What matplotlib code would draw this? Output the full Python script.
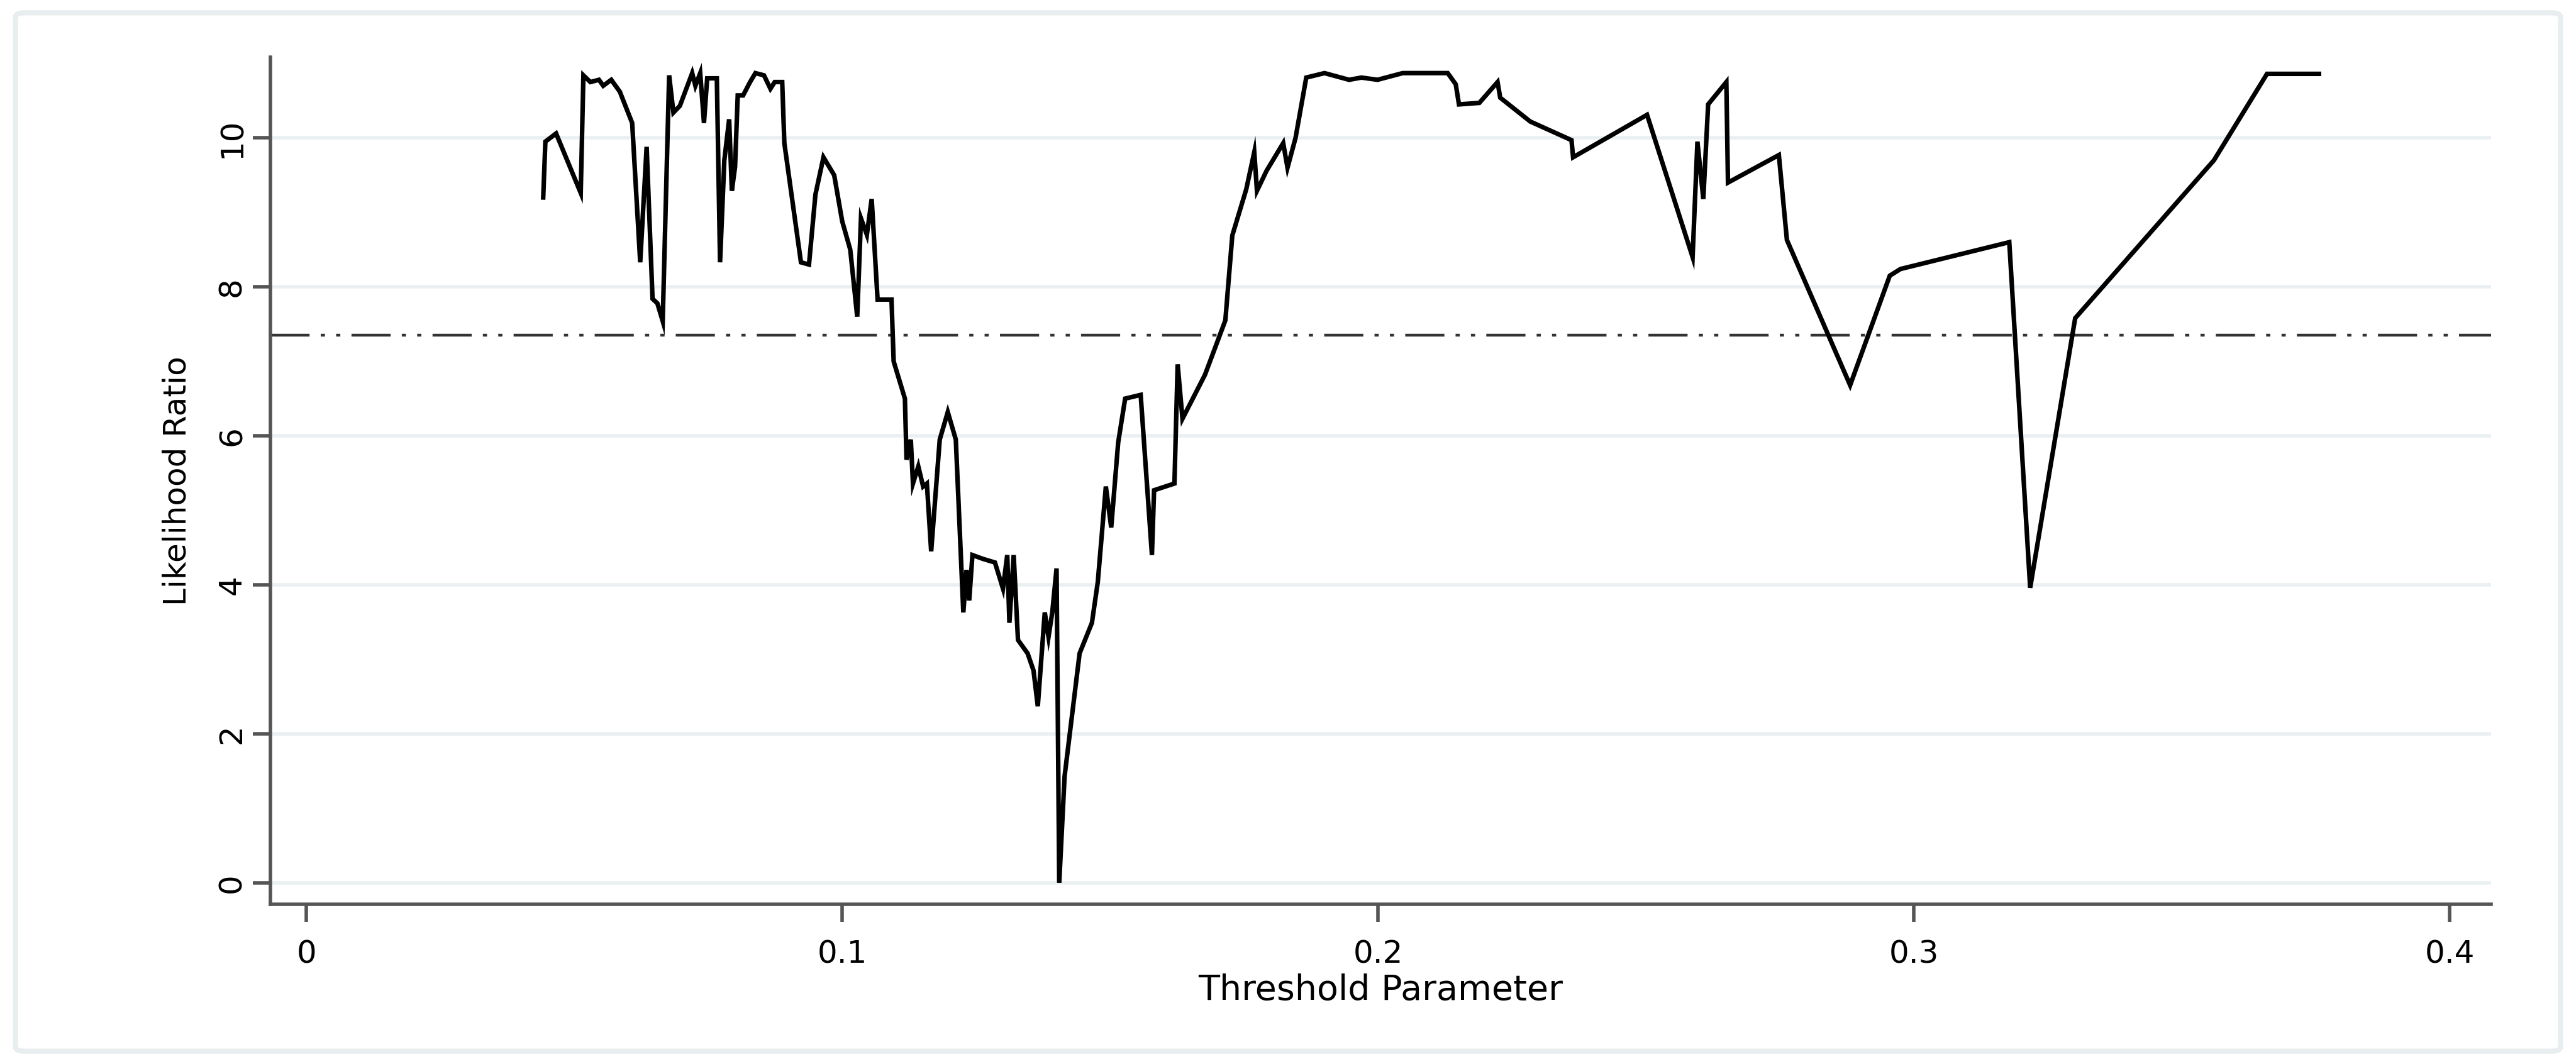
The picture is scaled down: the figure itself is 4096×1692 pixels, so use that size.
import matplotlib
matplotlib.use("Agg")
import matplotlib.pyplot as plt
from matplotlib.patches import FancyBboxPatch

threshold = [0.0442,0.0446,0.0466,0.0512,0.0517,0.0530,0.0546,0.0554,0.0569,0.0585,0.0608,0.0623,0.0635,0.0646,0.0655,0.0665,0.0677,0.0685,0.0697,0.0720,0.0726,0.0735,0.0742,0.0748,0.0766,0.0772,0.0780,0.0789,0.0794,0.0800,0.0805,0.0815,0.0828,0.0838,0.0854,0.0866,0.0874,0.0888,0.0892,0.0923,0.0938,0.0950,0.0965,0.0985,0.1000,0.1015,0.1028,0.1035,0.1046,0.1055,0.1066,0.1092,0.1096,0.1117,0.1120,0.1128,0.1132,0.1142,0.1151,0.1158,0.1166,0.1182,0.1197,0.1212,0.1226,0.1232,0.1237,0.1243,0.1262,0.1285,0.1300,0.1308,0.1312,0.1320,0.1328,0.1346,0.1357,0.1365,0.1378,0.1385,0.1392,0.1400,0.1405,0.1415,0.1443,0.1466,0.1477,0.1492,0.1502,0.1515,0.1528,0.1557,0.1578,0.1582,0.1620,0.1626,0.1635,0.1677,0.1715,0.1728,0.1754,0.1769,0.1774,0.1792,0.1823,0.1831,0.1846,0.1866,0.1900,0.1946,0.1969,0.1999,0.2046,0.2130,0.2145,0.2151,0.2189,0.2223,0.2228,0.2284,0.2361,0.2364,0.2502,0.2587,0.2596,0.2607,0.2616,0.2650,0.2653,0.2748,0.2763,0.2881,0.2955,0.2975,0.3178,0.3217,0.3301,0.3560,0.3659,0.3756]
lr = [9.20,9.95,10.06,9.26,10.84,10.75,10.78,10.70,10.78,10.62,10.20,8.33,9.88,7.84,7.78,7.54,10.84,10.34,10.43,10.87,10.70,10.87,10.20,10.80,10.80,8.33,9.70,10.25,9.29,9.61,10.57,10.57,10.75,10.87,10.84,10.66,10.75,10.75,9.93,8.33,8.30,9.24,9.74,9.50,8.88,8.50,7.60,8.92,8.70,9.18,7.83,7.83,7.00,6.50,5.68,5.95,5.36,5.59,5.32,5.36,4.45,5.95,6.32,5.95,3.63,4.20,3.79,4.40,4.35,4.30,3.95,4.40,3.49,4.40,3.26,3.08,2.85,2.37,3.63,3.30,3.63,4.22,0.00,1.43,3.08,3.49,4.04,5.32,4.77,5.91,6.50,6.55,4.40,5.27,5.36,6.96,6.23,6.82,7.55,8.69,9.31,9.81,9.29,9.56,9.93,9.60,10.00,10.81,10.87,10.78,10.81,10.78,10.87,10.87,10.72,10.45,10.47,10.75,10.54,10.22,9.97,9.74,10.31,8.40,9.95,9.18,10.45,10.75,9.40,9.77,8.63,6.68,8.15,8.24,8.60,3.96,7.58,9.70,10.86,10.86]
critical_value = 7.35
x_ticks = [0, 0.1, 0.2, 0.3, 0.4]
x_tick_labels = ["0", "0.1", "0.2", "0.3", "0.4"]
y_ticks = [0, 2, 4, 6, 8, 10]

fig = plt.figure(figsize=(20.48, 8.46), dpi=200)
border = FancyBboxPatch((0.006, 0.012), 0.988, 0.976, boxstyle="round,pad=0,rounding_size=0.004",
                        transform=fig.transFigure, facecolor="none", edgecolor="#e8eef0", linewidth=3,
                        zorder=-1)
fig.patches.append(border)
ax = fig.add_axes([0.105, 0.150, 0.862, 0.796])
ax.set_facecolor("none")
ax.plot(threshold, lr, color="black", linewidth=2.6, solid_joinstyle="miter", zorder=3)
ax.axhline(critical_value, color="#333333", linewidth=1.6, dashes=(14, 4, 1.5, 4, 1.5, 4), zorder=2)
ax.set_xlim(-0.0067, 0.4077)
ax.set_ylim(-0.29, 11.08)
for v in y_ticks:
    ax.axhline(v, color="#eaf0f2", linewidth=2, zorder=0)
ax.set_xticks(x_ticks)
ax.set_xticklabels(x_tick_labels)
ax.set_yticks(y_ticks)
for s in ["top", "right"]:
    ax.spines[s].set_visible(False)
for s in ["left", "bottom"]:
    ax.spines[s].set_color("#555555")
    ax.spines[s].set_linewidth(2)
ax.tick_params(axis="both", colors="#555555", width=2, length=10, labelsize=18, labelcolor="black")
ax.tick_params(axis="y", labelrotation=90)
for t in ax.get_yticklabels():
    t.set_va("center")
ax.tick_params(axis="x", pad=10)
ax.set_xlabel("Threshold Parameter", fontsize=20, labelpad=2)
ax.set_ylabel("Likelihood Ratio", fontsize=18, labelpad=14,
              family=["Liberation Sans Narrow", "DejaVu Sans"])
fig.savefig("out.png", dpi=200)
